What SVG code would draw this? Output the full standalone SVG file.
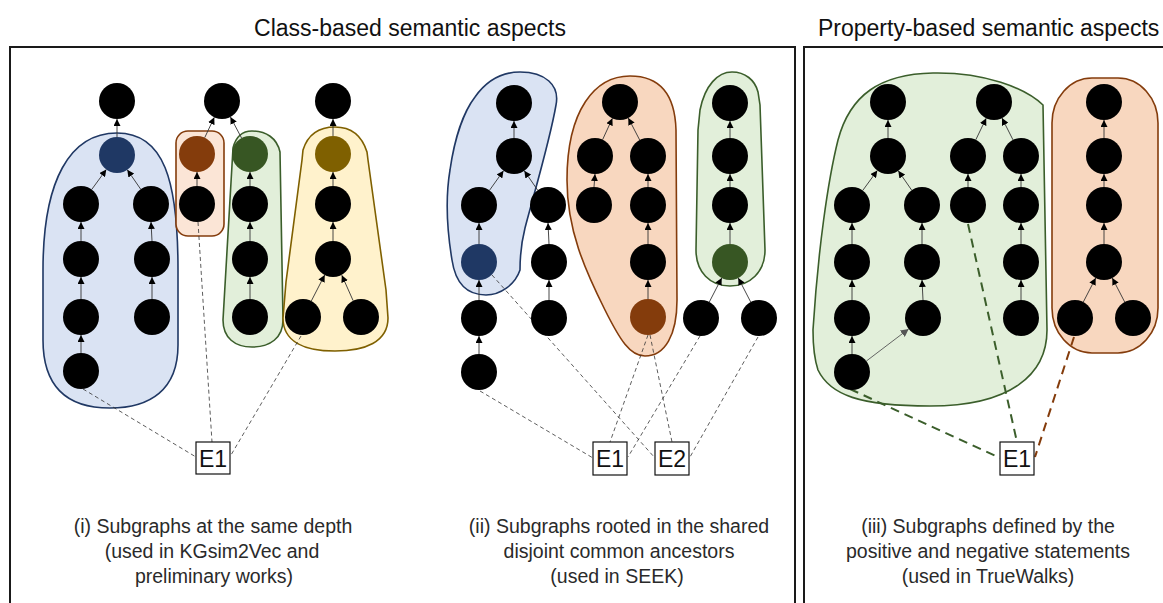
<svg xmlns="http://www.w3.org/2000/svg" width="1163" height="603" viewBox="0 0 1163 603">
  <style>
    .frame { fill: none; stroke: #1a1a1a; stroke-width: 2; }
    .title { font-family: "Liberation Sans", Arial, sans-serif; font-size: 23px; fill: #111; }
    .caption { font-family: "Liberation Sans", Arial, sans-serif; font-size: 19.5px; fill: #2a2a2a; text-anchor: middle; }
    .n { fill: #000; }
    .n-blue { fill: #1F3864; }
    .n-orange { fill: #843C0C; }
    .n-green { fill: #375623; }
    .n-olive { fill: #7F6000; }
    .b-blue { fill: #DAE3F3; stroke: #203864; stroke-width: 1.6; }
    .b-orange-l { fill: #FBE5D6; stroke: #843C0C; stroke-width: 1.6; }
    .b-orange { fill: #F8D7BF; stroke: #843C0C; stroke-width: 1.6; }
    .b-green { fill: #E2EFDA; stroke: #3B5E2B; stroke-width: 1.6; }
    .b-yellow { fill: #FFF2CC; stroke: #7F6000; stroke-width: 1.6; }
    .edge { stroke: #333; stroke-width: 0.9; fill: none; marker-end: url(#arr); }
    .edge-gray { stroke: #555; stroke-width: 0.9; fill: none; marker-end: url(#arrGray); }
    .link { stroke: #333; stroke-width: 0.8; stroke-dasharray: 4 3; fill: none; }
    .link-green { stroke: #3B5E2B; stroke-width: 2; stroke-dasharray: 9 6; fill: none; }
    .link-brown { stroke: #843C0C; stroke-width: 2; stroke-dasharray: 9 6; fill: none; }
    .ebox { fill: #fff; stroke: #111; stroke-width: 1.2; }
    .elabel { font-family: "Liberation Sans", Arial, sans-serif; font-size: 23px; fill: #111; text-anchor: middle; }
  </style>
  <defs>
    <marker id="arr" viewBox="0 0 10 10" refX="10" refY="5" markerWidth="7" markerHeight="7" markerUnits="userSpaceOnUse" orient="auto">
      <path d="M0,0 L10,5 L0,10 Z" fill="#000"/>
    </marker>
    <marker id="arrGray" viewBox="0 0 10 10" refX="10" refY="5" markerWidth="8" markerHeight="8" markerUnits="userSpaceOnUse" orient="auto">
      <path d="M0,0 L10,5 L0,10 Z" fill="#555"/>
    </marker>
  </defs>

  <rect width="1163" height="603" fill="#fff"/>

  <!-- panel frames and headings -->
  <g id="frames">
    <rect class="frame" x="10" y="47" width="785" height="580"/>
    <rect class="frame" x="804" y="47" width="380" height="580"/>
    <text class="title" x="410" y="36" text-anchor="middle">Class-based semantic aspects</text>
    <text class="title" x="818" y="36">Property-based semantic aspects</text>
  </g>

  <!-- grouped subgraph regions -->
  <g id="regions">
    <path id="r1-blue" class="b-blue" d="M43,340 L43,270 C43,180 70,133 117,133 C164,133 178,180 178,270 L178,345 C178,390 150,408 110,408 C65,408 43,385 43,340 Z"/>
    <rect id="r1-orange" class="b-orange-l" x="176" y="131" width="48" height="105" rx="12"/>
    <path id="r1-green" class="b-green" d="M233,148 C236,136 242,131 252,131 C266,131 277,138 280,152 L283,320 C283,338 270,347 252,347 C235,347 223,338 223,320 Z"/>
    <path id="r1-yellow" class="b-yellow" d="M303,150 C308,134 320,127 335,127 C351,127 362,136 367,152 L368,160 L386,290 L388,318 C388,342 365,351 335,351 C305,351 283,342 283,318 L286,282 L302,160 Z"/>

    <path id="r2-blue" class="b-blue" d="M520,72 C545,72 560,85 556,105 C550,140 535,190 525,228 C520,248 520,262 520,270 C515,285 500,295 486,295 C465,295 455,280 452,260 C447,230 445,200 450,170 C455,135 465,110 475,97 C487,80 502,72 520,72 Z"/>
    <path id="r2-orange" class="b-orange" d="M630,76 C660,76 675,95 676,130 L677,300 C677,335 665,356 645,356 C630,356 620,340 605,310 C585,270 567,230 567,180 C567,110 595,76 630,76 Z"/>
    <path id="r2-green" class="b-green" d="M700,110 C705,85 718,72 732,72 C745,72 755,80 758,92 L760,105 L765,250 C765,272 750,286 730,286 C710,286 696,272 696,250 L698,130 Z"/>

    <path id="r3-green" class="b-green" d="M838,140 C850,95 880,74 933,73 C985,72 1025,88 1043,105 L1047,330 C1047,375 1010,406 930,406 C860,406 830,395 818,370 C813,355 813,340 813,330 C818,250 828,180 838,140 Z"/>
    <rect id="r3-orange" class="b-orange" x="1052" y="78" width="106" height="275" rx="40" ry="45"/>
  </g>

  <!-- connectors: entity links (dashed) and subclass edges (arrows) -->
  <g id="connectors">
    <line class="link" x1="83" y1="389" x2="196" y2="457"/>
    <line class="link" x1="198" y1="222" x2="212" y2="442"/>
    <line class="link" x1="301" y1="336" x2="231" y2="455"/>

    <line class="link" x1="480" y1="391" x2="593" y2="458"/>
    <line class="link" x1="492" y1="275" x2="655" y2="458"/>
    <line class="link" x1="648" y1="335" x2="610" y2="442"/>
    <line class="link" x1="650" y1="335" x2="672" y2="442"/>
    <line class="link" x1="700" y1="336" x2="628" y2="457"/>
    <line class="link" x1="758" y1="337" x2="690" y2="457"/>

    <line class="link-green" x1="850" y1="389" x2="1000" y2="458"/>
    <line class="link-green" x1="968" y1="224" x2="1017" y2="442"/>
    <line class="link-brown" x1="1074" y1="337" x2="1035" y2="457"/>

    <!-- panel i -->
    <line class="edge" x1="117" y1="137" x2="117" y2="119"/>
    <line class="edge" x1="91.7" y1="189.5" x2="106.3" y2="169.5"/>
    <line class="edge" x1="140.7" y1="189.2" x2="127.3" y2="169.8"/>
    <line class="edge" x1="81" y1="241" x2="81" y2="222"/>
    <line class="edge" x1="152" y1="241" x2="151" y2="222"/>
    <line class="edge" x1="81" y1="299" x2="81" y2="277"/>
    <line class="edge" x1="152" y1="299" x2="152" y2="277"/>
    <line class="edge" x1="81" y1="353" x2="81" y2="335"/>
    <line class="edge" x1="204.7" y1="137.7" x2="214.3" y2="117.3"/>
    <line class="edge" x1="197" y1="186" x2="197" y2="172"/>
    <line class="edge" x1="241.6" y1="138.1" x2="230.4" y2="116.9"/>
    <line class="edge" x1="250" y1="186" x2="250" y2="172"/>
    <line class="edge" x1="250" y1="241" x2="250" y2="222"/>
    <line class="edge" x1="250" y1="299" x2="250" y2="277"/>
    <line class="edge" x1="333" y1="136" x2="333" y2="119"/>
    <line class="edge" x1="333" y1="186" x2="333" y2="172"/>
    <line class="edge" x1="333" y1="241" x2="333" y2="222"/>
    <line class="edge" x1="311.3" y1="301" x2="324.7" y2="275"/>
    <line class="edge" x1="353.2" y1="300.8" x2="341.8" y2="275.2"/>

    <!-- panel ii -->
    <line class="edge" x1="514" y1="138" x2="514" y2="121"/>
    <line class="edge" x1="489.5" y1="190.3" x2="503.5" y2="170.7"/>
    <line class="edge" x1="537.7" y1="190.2" x2="524.3" y2="170.8"/>
    <line class="edge" x1="479" y1="244" x2="479" y2="223"/>
    <line class="edge" x1="549" y1="244" x2="548" y2="223"/>
    <line class="edge" x1="479" y1="300" x2="479" y2="280"/>
    <line class="edge" x1="549" y1="300" x2="549" y2="280"/>
    <line class="edge" x1="479" y1="354" x2="479" y2="336"/>
    <line class="edge" x1="602.6" y1="139.7" x2="612.4" y2="118.3"/>
    <line class="edge" x1="639.7" y1="140" x2="628.3" y2="118"/>
    <line class="edge" x1="594" y1="187" x2="595" y2="174"/>
    <line class="edge" x1="648" y1="187" x2="648" y2="174"/>
    <line class="edge" x1="648" y1="244" x2="648" y2="223"/>
    <line class="edge" x1="648" y1="299" x2="648" y2="280"/>
    <line class="edge" x1="730" y1="138" x2="730" y2="121"/>
    <line class="edge" x1="730" y1="187" x2="730" y2="174"/>
    <line class="edge" x1="730" y1="244" x2="730" y2="223"/>
    <line class="edge" x1="709.3" y1="302" x2="721.7" y2="278"/>
    <line class="edge" x1="750.7" y1="302" x2="738.3" y2="278"/>

    <!-- panel iii -->
    <line class="edge" x1="888" y1="138" x2="888" y2="120"/>
    <line class="edge" x1="862.7" y1="190.5" x2="877.3" y2="170.5"/>
    <line class="edge" x1="911.7" y1="190.2" x2="898.3" y2="170.8"/>
    <line class="edge" x1="852" y1="244" x2="852" y2="223"/>
    <line class="edge" x1="922" y1="244" x2="922" y2="223"/>
    <line class="edge" x1="852" y1="300" x2="852" y2="280"/>
    <line class="edge" x1="923" y1="300" x2="922" y2="280"/>
    <line class="edge" x1="852" y1="354" x2="852" y2="336"/>
    <line class="edge-gray" x1="866.3" y1="361.1" x2="908.7" y2="328.9"/>
    <line class="edge" x1="975.8" y1="139.8" x2="986.2" y2="118.2"/>
    <line class="edge" x1="1013" y1="139.9" x2="1002" y2="118.1"/>
    <line class="edge" x1="968" y1="187" x2="968" y2="174"/>
    <line class="edge" x1="1021" y1="187" x2="1021" y2="174"/>
    <line class="edge" x1="1021" y1="244" x2="1021" y2="223"/>
    <line class="edge" x1="1021" y1="300" x2="1021" y2="280"/>
    <line class="edge" x1="1104" y1="138" x2="1104" y2="120"/>
    <line class="edge" x1="1104" y1="187" x2="1104" y2="174"/>
    <line class="edge" x1="1104" y1="244" x2="1104" y2="223"/>
    <line class="edge" x1="1083.3" y1="302" x2="1095.7" y2="278"/>
    <line class="edge" x1="1124.7" y1="302" x2="1112.3" y2="278"/>
  </g>

  <!-- class nodes -->
  <g id="nodes-i">
    <circle id="i-a0" class="n" cx="117" cy="101" r="18"/>
    <circle id="i-a1" class="n-blue" cx="117" cy="155" r="18"/>
    <circle id="i-a2" class="n" cx="81" cy="204" r="18"/>
    <circle id="i-a3" class="n" cx="151" cy="204" r="18"/>
    <circle id="i-a4" class="n" cx="81" cy="259" r="18"/>
    <circle id="i-a5" class="n" cx="152" cy="259" r="18"/>
    <circle id="i-a6" class="n" cx="81" cy="317" r="18"/>
    <circle id="i-a7" class="n" cx="152" cy="317" r="18"/>
    <circle id="i-a8" class="n" cx="81" cy="371" r="18"/>
    <circle id="i-b0" class="n" cx="222" cy="101" r="18"/>
    <circle id="i-b1" class="n-orange" cx="197" cy="154" r="18"/>
    <circle id="i-b2" class="n" cx="197" cy="204" r="18"/>
    <circle id="i-c1" class="n-green" cx="250" cy="154" r="18"/>
    <circle id="i-c2" class="n" cx="250" cy="204" r="18"/>
    <circle id="i-c3" class="n" cx="250" cy="259" r="18"/>
    <circle id="i-c4" class="n" cx="250" cy="317" r="18"/>
    <circle id="i-d0" class="n" cx="333" cy="101" r="18"/>
    <circle id="i-d1" class="n-olive" cx="333" cy="154" r="18"/>
    <circle id="i-d2" class="n" cx="333" cy="204" r="18"/>
    <circle id="i-d3" class="n" cx="333" cy="259" r="18"/>
    <circle id="i-d4" class="n" cx="303" cy="317" r="18"/>
    <circle id="i-d5" class="n" cx="361" cy="317" r="18"/>
  </g>

  <g id="nodes-ii">
    <circle id="ii-a0" class="n" cx="514" cy="103" r="18"/>
    <circle id="ii-a1" class="n" cx="514" cy="156" r="18"/>
    <circle id="ii-a2" class="n" cx="479" cy="205" r="18"/>
    <circle id="ii-a3" class="n" cx="548" cy="205" r="18"/>
    <circle id="ii-a4" class="n-blue" cx="479" cy="262" r="18"/>
    <circle id="ii-a5" class="n" cx="549" cy="262" r="18"/>
    <circle id="ii-a6" class="n" cx="479" cy="318" r="18"/>
    <circle id="ii-a7" class="n" cx="549" cy="318" r="18"/>
    <circle id="ii-a8" class="n" cx="479" cy="372" r="18"/>
    <circle id="ii-b0" class="n" cx="620" cy="102" r="18"/>
    <circle id="ii-b1" class="n" cx="595" cy="156" r="18"/>
    <circle id="ii-b2" class="n" cx="648" cy="156" r="18"/>
    <circle id="ii-b3" class="n" cx="594" cy="205" r="18"/>
    <circle id="ii-b4" class="n" cx="648" cy="205" r="18"/>
    <circle id="ii-b5" class="n" cx="648" cy="262" r="18"/>
    <circle id="ii-b6" class="n-orange" cx="648" cy="317" r="18"/>
    <circle id="ii-c0" class="n" cx="730" cy="103" r="18"/>
    <circle id="ii-c1" class="n" cx="730" cy="156" r="18"/>
    <circle id="ii-c2" class="n" cx="730" cy="205" r="18"/>
    <circle id="ii-c3" class="n-green" cx="730" cy="262" r="18"/>
    <circle id="ii-c4" class="n" cx="701" cy="318" r="18"/>
    <circle id="ii-c5" class="n" cx="759" cy="318" r="18"/>
  </g>

  <g id="nodes-iii">
    <circle id="iii-a0" class="n" cx="888" cy="102" r="18"/>
    <circle id="iii-a1" class="n" cx="888" cy="156" r="18"/>
    <circle id="iii-a2" class="n" cx="852" cy="205" r="18"/>
    <circle id="iii-a3" class="n" cx="922" cy="205" r="18"/>
    <circle id="iii-a4" class="n" cx="852" cy="262" r="18"/>
    <circle id="iii-a5" class="n" cx="922" cy="262" r="18"/>
    <circle id="iii-a6" class="n" cx="852" cy="318" r="18"/>
    <circle id="iii-a7" class="n" cx="923" cy="318" r="18"/>
    <circle id="iii-a8" class="n" cx="852" cy="372" r="18"/>
    <circle id="iii-b0" class="n" cx="994" cy="102" r="18"/>
    <circle id="iii-b1" class="n" cx="968" cy="156" r="18"/>
    <circle id="iii-b2" class="n" cx="1021" cy="156" r="18"/>
    <circle id="iii-b3" class="n" cx="968" cy="205" r="18"/>
    <circle id="iii-b4" class="n" cx="1021" cy="205" r="18"/>
    <circle id="iii-b5" class="n" cx="1021" cy="262" r="18"/>
    <circle id="iii-b6" class="n" cx="1021" cy="318" r="18"/>
    <circle id="iii-c0" class="n" cx="1104" cy="102" r="18"/>
    <circle id="iii-c1" class="n" cx="1104" cy="156" r="18"/>
    <circle id="iii-c2" class="n" cx="1104" cy="205" r="18"/>
    <circle id="iii-c3" class="n" cx="1104" cy="262" r="18"/>
    <circle id="iii-c4" class="n" cx="1075" cy="318" r="18"/>
    <circle id="iii-c5" class="n" cx="1133" cy="318" r="18"/>
  </g>

  <!-- entity boxes -->
  <g id="entity-i-E1">
    <rect class="ebox" x="196" y="442" width="34" height="32"/>
    <text class="elabel" x="213" y="467">E1</text>
  </g>
  <g id="entity-ii-E1">
    <rect class="ebox" x="593" y="442" width="34" height="33"/>
    <text class="elabel" x="610" y="467">E1</text>
  </g>
  <g id="entity-ii-E2">
    <rect class="ebox" x="655" y="442" width="34" height="33"/>
    <text class="elabel" x="672" y="467">E2</text>
  </g>
  <g id="entity-iii-E1">
    <rect class="ebox" x="1000" y="442" width="34" height="33"/>
    <text class="elabel" x="1017" y="467">E1</text>
  </g>

  <!-- captions -->
  <g id="captions">
    <text class="caption" x="213" y="533">(i) Subgraphs at the same depth</text>
    <text class="caption" x="212" y="558">(used in KGsim2Vec and</text>
    <text class="caption" x="214" y="583">preliminary works)</text>
    <text class="caption" x="619" y="533">(ii) Subgraphs rooted in the shared</text>
    <text class="caption" x="619" y="558">disjoint common ancestors</text>
    <text class="caption" x="617" y="583">(used in SEEK)</text>
    <text class="caption" x="988" y="533">(iii) Subgraphs defined by the</text>
    <text class="caption" x="988" y="558">positive and negative statements</text>
    <text class="caption" x="988" y="583">(used in TrueWalks)</text>
  </g>
</svg>
